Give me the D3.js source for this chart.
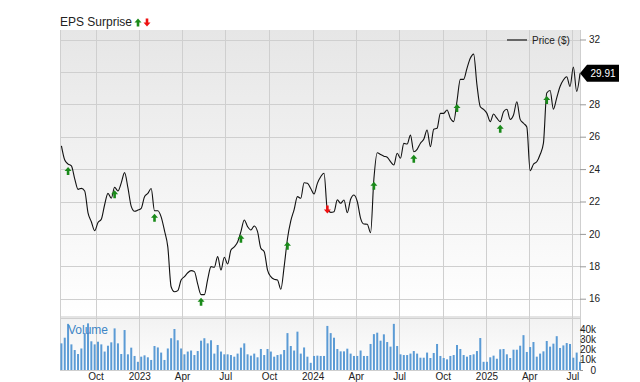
<!DOCTYPE html>
<html>
<head>
<meta charset="utf-8">
<script src="https://cdn.jsdelivr.net/npm/d3@7"></script>
<style>
  html, body { margin: 0; padding: 0; background: #fff; }
  svg { display: block; font-family: "Liberation Sans", Arial, sans-serif; }
</style>
</head>
<body>
<svg id="chart" width="640" height="382"></svg>
<script>
// ---- data (weekly, last point = latest close) ----
const startDate = new Date(2022, 6, 21);
const price = [
  25.44, 24.56, 24.31, 24.2, 23.4, 22.75, 22.81, 22.65, 21.3, 20.75,
  20.2, 20.7, 20.9, 21.8, 22.5, 22.2, 22.88, 22.65, 23.15, 23.78,
  22.85, 21.7, 21.4, 21.47, 21.58, 22.3, 22.5, 22.8, 21.43, 21.43,
  21.05, 20.2, 19.2, 16.74, 16.43, 16.5, 17.15, 17.36, 17.6, 17.73,
  17.67, 16.9, 16.25, 16.25, 17.2, 17.98, 17.94, 18.6, 17.77, 18.56,
  18.14, 19.0, 19.2, 19.5, 20.14, 20.86, 20.45, 20.24, 20.49, 20.14,
  19.11, 18.9, 17.77, 17.36, 17.2, 17.16, 16.58, 17.98, 19.7, 20.8,
  21.5, 22.3, 22.2, 23.16, 23.12, 22.8, 22.46, 23.12, 23.53, 23.74,
  21.5, 21.33, 21.37, 22.1, 21.89, 22.09, 21.31, 22.14, 22.4, 22.0,
  20.96, 20.61, 20.6, 20.07, 23.4, 25.01, 24.9, 24.8, 24.73, 24.46,
  24.25, 24.98, 24.67, 25.59, 25.55, 26.1, 25.07, 25.22, 25.6, 25.84,
  26.41, 25.38, 26.46, 26.52, 27.44, 27.44, 27.65, 27.14, 26.93, 28.2,
  29.54, 29.54, 30.22, 30.84, 31.1, 29.2, 27.85, 27.69, 27.44, 26.93,
  27.4, 27.14, 26.93, 27.54, 27.69, 27.07, 27.34, 28.16, 27.07, 26.83,
  26.6, 23.9, 24.3, 24.45, 24.9, 25.6, 28.7, 28.85, 27.7, 28.4,
  29.1, 29.5, 29.7, 29.1, 30.3, 28.8, 29.91
];
const volumeK = [
  26, 31.5, 45, 25, 19.5, 15.6, 21, 36, 45.5, 28,
  25, 27.6, 25, 18, 23.7, 27, 40.6, 26, 15.6, 39,
  15.3, 21.8, 13.7, 8, 13, 14.3, 12.4, 9.8, 23.4, 22,
  17, 9.8, 21, 31, 40, 29, 21, 15.3, 18, 19,
  14.6, 18.5, 28.6, 31, 26, 29, 16, 24.4, 18, 15.3,
  15.3, 14.6, 13, 16, 21.8, 26, 15.3, 14, 16, 12.4,
  20.5, 14.6, 20.5, 18, 13, 14.6, 15.3, 19.5, 36, 23.4,
  19, 37.4, 16, 22, 13, 7, 13.7, 14, 13.7, 13.7,
  43, 36, 31.5, 20.5,
  18.2, 18.2, 20.8, 16, 13.7, 13.7, 19, 13.7, 13.7, 25.4,
  35, 36.4, 28.6, 34.8, 27.3, 22.8, 45, 23.4, 15.3, 14.6,
  14.6, 16, 18.5, 16, 12, 12, 17, 11.7, 16.6, 25.4,
  13.7, 11.7, 10.4, 13.7, 14.6, 24.4, 20.5, 14.6, 13, 14.6,
  15.3, 18.5, 31.2, 8, 8, 12.4, 14, 11, 20.2, 20.5,
  15.3, 11.7, 19.8, 19.8, 23.7, 34, 17.6, 22.4, 27.3, 13,
  16, 18.2, 28.3, 22.8, 25.7, 33, 21.5, 24, 26.3, 25.4,
  12, 17, 8
];
// EPS surprise events: index into weekly series, direction
const epsIndex = [2, 16, 28, 42, 54, 68, 80, 94, 106, 119, 132, 146];
const epsDir   = ["up","up","up","up","up","up","down","up","up","up","up","up"];
const priceTicks = [16, 18, 20, 22, 24, 26, 28, 32];
const priceGrid = [16, 18, 20, 22, 24, 26, 28, 30, 32];
const volumeTicks = [0, 10, 20, 30, 40];
const lastPriceLabel = "29.91";

const dates = price.map((_, i) => d3.timeWeek.offset(startDate, i));

// ---- layout ----
const L = 60, R = 580, T = 30, PB = 316, VT = 318, VB = 370;
const svg = d3.select("#chart");

const x = d3.scaleTime()
  .domain([new Date(2022, 6, 18), new Date(2025, 6, 17)])
  .range([L, R]);
const y = d3.scaleLinear().domain([16, 32]).range([298.7, 39.5]);
const yv = d3.scaleLinear().domain([0, 40]).range([VB, 329]);

const defs = svg.append("defs");
const g1 = defs.append("linearGradient").attr("id", "bgP").attr("x1", 0).attr("y1", 0).attr("x2", 0).attr("y2", 1);
g1.append("stop").attr("offset", "0%").attr("stop-color", "#e6e6e6");
g1.append("stop").attr("offset", "100%").attr("stop-color", "#ffffff");
const g2 = defs.append("linearGradient").attr("id", "bgV").attr("x1", 0).attr("y1", 0).attr("x2", 0).attr("y2", 1);
g2.append("stop").attr("offset", "0%").attr("stop-color", "#f2f2f2");
g2.append("stop").attr("offset", "100%").attr("stop-color", "#ffffff");

svg.append("rect").attr("x", L).attr("y", T).attr("width", R - L).attr("height", PB - T).attr("fill", "url(#bgP)");
svg.append("rect").attr("x", L).attr("y", PB).attr("width", R - L).attr("height", VT - PB).attr("fill", "#e4e4e4");
svg.append("rect").attr("x", L).attr("y", VT).attr("width", R - L).attr("height", VB - VT).attr("fill", "url(#bgV)");

const quarterTicks = x.ticks(d3.timeMonth.every(3));
const grid = svg.append("g").attr("stroke", "#cfcfcf").attr("stroke-width", 1).attr("shape-rendering", "crispEdges");
priceGrid.forEach(p => {
  grid.append("line").attr("x1", L).attr("x2", R).attr("y1", Math.round(y(p)) + 0.5).attr("y2", Math.round(y(p)) + 0.5);
});
quarterTicks.forEach(d => {
  const xx = Math.round(x(d)) + 0.5;
  grid.append("line").attr("x1", xx).attr("x2", xx).attr("y1", T).attr("y2", VB);
});
grid.append("line").attr("x1", L + 0.5).attr("x2", L + 0.5).attr("y1", T).attr("y2", VB);
grid.append("line").attr("x1", R + 0.5).attr("x2", R + 0.5).attr("y1", T).attr("y2", VB);
grid.append("line").attr("x1", L).attr("x2", R).attr("y1", VT + 0.5).attr("y2", VT + 0.5);
grid.append("line").attr("x1", L).attr("x2", R).attr("y1", VB + 0.5).attr("y2", VB + 0.5);

// ---- volume bars ----
svg.append("g").selectAll("rect").data(volumeK).join("rect")
  .attr("x", (d, i) => x(dates[i]) - 1)
  .attr("width", 2)
  .attr("y", d => yv(d))
  .attr("height", d => VB - yv(d))
  .attr("fill", "#5b9bd5");

svg.append("text").attr("x", 68).attr("y", 334).attr("font-size", 12)
  .attr("fill", "#3d85c6").text("Volume");

// ---- price line ----
const line = d3.line().x((d, i) => x(dates[i])).y(d => y(d)).curve(d3.curveMonotoneX);
svg.append("path").datum(price).attr("d", line)
  .attr("fill", "none").attr("stroke", "#111").attr("stroke-width", 1.1);

// ---- EPS arrows ----
function arrowPath(cx, tipY, dir) {
  const s = dir === "up" ? 1 : -1;
  return `M${cx},${tipY} L${cx + 3.5},${tipY + s * 4} L${cx + 1.3},${tipY + s * 4} L${cx + 1.3},${tipY + s * 8} L${cx - 1.3},${tipY + s * 8} L${cx - 1.3},${tipY + s * 4} L${cx - 3.5},${tipY + s * 4} Z`;
}
epsIndex.forEach((idx, k) => {
  const cx = x(dates[idx]);
  const py = y(price[idx]);
  const dir = epsDir[k];
  const tip = dir === "up" ? py + 3 : py + 4;
  svg.append("path").attr("d", arrowPath(cx, tip, dir))
    .attr("fill", dir === "up" ? "#1a8a1a" : "#ee1111");
});

// ---- axes ----
const ax = svg.append("g").attr("transform", `translate(${R},0)`)
  .call(d3.axisRight(y).tickValues(priceTicks).tickSize(6).tickPadding(3).tickFormat(d3.format("d")));
ax.select(".domain").remove();
ax.selectAll("line").attr("stroke", "#999");
ax.selectAll("text").attr("font-size", 10).attr("fill", "#222").attr("font-family", "Liberation Sans, Arial, sans-serif");

const av = svg.append("g").attr("transform", `translate(${R},0)`)
  .call(d3.axisRight(yv).tickValues(volumeTicks).tickSize(3).tickPadding(0)
    .tickFormat(d => d === 0 ? "0" : d + "k"));
av.select(".domain").remove();
av.selectAll("line").attr("stroke", "#999");
av.selectAll("text").attr("font-size", 10).attr("fill", "#222").attr("text-anchor", "end")
  .attr("x", 16).attr("font-family", "Liberation Sans, Arial, sans-serif");

const xa = svg.append("g").attr("transform", `translate(0,${VB})`)
  .call(d3.axisBottom(x).tickValues(quarterTicks).tickSize(0).tickPadding(3)
    .tickFormat(d => d.getMonth() === 0 ? d3.timeFormat("%Y")(d) : d3.timeFormat("%b")(d)));
xa.select(".domain").remove();
xa.selectAll("text").attr("font-size", 10).attr("fill", "#222").attr("font-family", "Liberation Sans, Arial, sans-serif");

// ---- titles & legend ----
svg.append("text").attr("x", 60).attr("y", 26).attr("font-size", 12).attr("fill", "#222").text("EPS Surprise");
svg.append("path").attr("d", arrowPath(138, 18.5, "up")).attr("fill", "#1a8a1a");
svg.append("path").attr("d", arrowPath(147, 26.5, "down")).attr("fill", "#ee1111");

svg.append("line").attr("x1", 507).attr("x2", 527).attr("y1", 40).attr("y2", 40)
  .attr("stroke", "#666").attr("stroke-width", 2);
svg.append("text").attr("x", 532).attr("y", 44).attr("font-size", 10).attr("fill", "#222").text("Price ($)");

// ---- last price tag ----
const ly = y(price[price.length - 1]);
svg.append("path")
  .attr("d", `M${R},${ly} L${R + 7},${ly - 8.5} L${R + 39},${ly - 8.5} L${R + 39},${ly + 8.5} L${R + 7},${ly + 8.5} Z`)
  .attr("fill", "#000");
svg.append("text").attr("x", R + 23).attr("y", ly + 3.5).attr("font-size", 10)
  .attr("text-anchor", "middle").attr("fill", "#fff").text(lastPriceLabel);
</script>
</body>
</html>
